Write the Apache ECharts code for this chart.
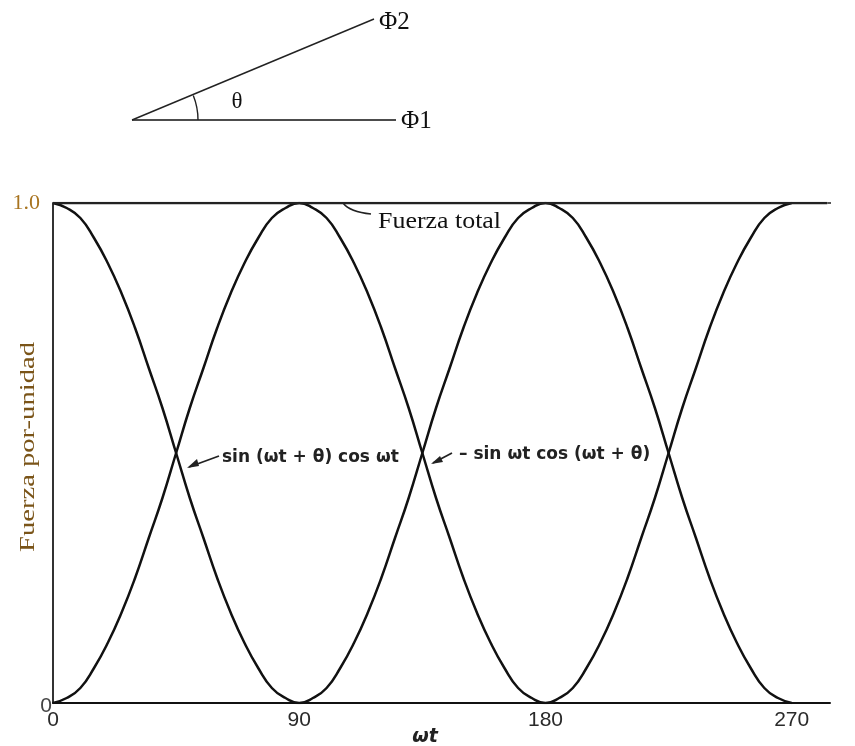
<!DOCTYPE html>
<html>
<head>
<meta charset="utf-8">
<script src="https://cdn.jsdelivr.net/npm/echarts@6/dist/echarts.min.js"></script>
<style>
  html, body { margin: 0; padding: 0; background: #fff; }
  #chart { width: 855px; height: 746px; }
</style>
</head>
<body>
<div id="chart"></div>
<script>
// ωt en grados (cada 5)
const wt = [0, 5, 10, 15, 20, 25, 30, 35, 40, 45, 50, 55, 60, 65, 70, 75, 80, 85, 90,
  95, 100, 105, 110, 115, 120, 125, 130, 135, 140, 145, 150, 155, 160, 165, 170, 175, 180,
  185, 190, 195, 200, 205, 210, 215, 220, 225, 230, 235, 240, 245, 250, 255, 260, 265, 270]
// sin(ωt+θ)cos ωt (empieza en 1.0)
const curvaA = [1.0, 0.99, 0.97, 0.93, 0.88, 0.82, 0.75, 0.67, 0.59, 0.5, 0.41, 0.33, 0.25, 0.18, 0.12, 0.07, 0.03, 0.01, 0,
  0.01, 0.03, 0.07, 0.12, 0.18, 0.25, 0.33, 0.41, 0.5, 0.59, 0.67, 0.75, 0.82, 0.88, 0.93, 0.97, 0.99, 1.0,
  0.99, 0.97, 0.93, 0.88, 0.82, 0.75, 0.67, 0.59, 0.5, 0.41, 0.33, 0.25, 0.18, 0.12, 0.07, 0.03, 0.01, 0]
// -sin ωt cos(ωt+θ) (empieza en 0)
const curvaB = [0, 0.01, 0.03, 0.07, 0.12, 0.18, 0.25, 0.33, 0.41, 0.5, 0.59, 0.67, 0.75, 0.82, 0.88, 0.93, 0.97, 0.99, 1.0,
  0.99, 0.97, 0.93, 0.88, 0.82, 0.75, 0.67, 0.59, 0.5, 0.41, 0.33, 0.25, 0.18, 0.12, 0.07, 0.03, 0.01, 0,
  0.01, 0.03, 0.07, 0.12, 0.18, 0.25, 0.33, 0.41, 0.5, 0.59, 0.67, 0.75, 0.82, 0.88, 0.93, 0.97, 0.99, 1.0]
// fuerza total
const totalX = [0, 283]
const totalExtX = [283, 292]
const totalY = [1.0, 1.0]
const xTicks = [0, 90, 180, 270]
const yTicks = ['0', '1.0']

const chart = echarts.init(document.getElementById('chart'))

const pair = (xs, ys) => xs.map((x, i) => [x, ys[i]])

chart.setOption({
  animation: false,
  grid: { left: 53, right: 25, top: 203, bottom: 43, containLabel: false, outerBoundsMode: 'none' },
  xAxis: {
    type: 'value',
    min: 0,
    max: 284,
    interval: 90,
    axisLine: { lineStyle: { color: '#111', width: 2 } },
    axisTick: { show: false },
    splitLine: { show: false },
    axisLabel: {
      margin: 7,
      fontFamily: 'Liberation Sans',
      fontSize: 21,
      color: '#2a2a2a',
      showMaxLabel: false,
      formatter: v => xTicks.includes(v) ? String(v) : ''
    }
  },
  yAxis: {
    type: 'value',
    min: 0,
    max: 1,
    interval: 1,
    axisLine: { show: true, lineStyle: { color: '#333', width: 2 } },
    axisTick: { show: false },
    splitLine: { show: false },
    axisLabel: {
      margin: 1,
      formatter: v => v === 1 ? '{a|' + yTicks[1] + '}' : '{b|' + yTicks[0] + '}',
      rich: {
        a: { fontFamily: 'Liberation Serif', fontSize: 22, color: '#a87420', padding: [0, 12, 0, 0] },
        b: { fontFamily: 'Liberation Sans', fontSize: 21, color: '#444', padding: [6, 0, 0, 0] }
      }
    }
  },
  series: [
    {
      type: 'line', symbol: 'none', smooth: 0.5,
      data: pair(wt, curvaA),
      lineStyle: { color: '#111', width: 2.5 }
    },
    {
      type: 'line', symbol: 'none', smooth: 0.5,
      data: pair(wt, curvaB),
      lineStyle: { color: '#111', width: 2.5 }
    },
    {
      type: 'line', symbol: 'none',
      data: pair(totalX, totalY),
      lineStyle: { color: '#222', width: 2.5 }
    },
    {
      type: 'line', symbol: 'none', clip: false,
      data: pair(totalExtX, totalY),
      lineStyle: { color: '#555', width: 2, type: [8, 6] }
    }
  ],
  graphic: [
    // diagrama fasorial
    { type: 'line', shape: { x1: 132, y1: 120, x2: 396, y2: 120 }, style: { stroke: '#111', lineWidth: 1.6 } },
    { type: 'line', shape: { x1: 132, y1: 120, x2: 374, y2: 19 }, style: { stroke: '#222', lineWidth: 1.4 } },
    { type: 'arc', shape: { cx: 132, cy: 120, r: 66, startAngle: -0.38, endAngle: 0 }, style: { stroke: '#222', lineWidth: 1.4, fill: null } },
    { type: 'text', x: 237, y: 102, style: { text: 'θ', font: '23px "Liberation Serif"', fill: '#111', align: 'center', verticalAlign: 'middle' } },
    { type: 'text', x: 379, y: 22, style: { text: 'Φ2', font: '25px "Liberation Serif"', fill: '#111', verticalAlign: 'middle' } },
    { type: 'text', x: 401, y: 121, style: { text: 'Φ1', font: '25px "Liberation Serif"', fill: '#111', verticalAlign: 'middle' } },
    // título del eje y
    { type: 'text', x: 28, y: 447, rotation: Math.PI / 2, scaleX: 1.3, style: { text: 'Fuerza por-unidad', font: '22px "Liberation Serif"', fill: '#7a5418', align: 'center', verticalAlign: 'middle' } },
    // anotaciones
    { type: 'bezierCurve', shape: { x1: 343, y1: 203, cpx1: 350, cpy1: 212, x2: 371, y2: 214 }, style: { stroke: '#222', lineWidth: 1.6, fill: null } },
    { type: 'text', x: 378, y: 222, scaleX: 1.08, style: { text: 'Fuerza total', font: '24px "Liberation Serif"', fill: '#111', verticalAlign: 'middle' } },
    { type: 'line', shape: { x1: 219, y1: 456, x2: 189, y2: 467 }, style: { stroke: '#222', lineWidth: 1.8 } },
    { type: 'polygon', shape: { points: [[187, 468], [197, 459], [199, 466]] }, style: { fill: '#222' } },
    { type: 'text', x: 222, y: 458, style: { text: 'sin (ωt + θ) cos ωt', font: 'bold 17px "DejaVu Sans"', fill: '#222', verticalAlign: 'middle' } },
    { type: 'line', shape: { x1: 452, y1: 453, x2: 433, y2: 463 }, style: { stroke: '#222', lineWidth: 1.8 } },
    { type: 'polygon', shape: { points: [[431, 464], [440, 456], [443, 462]] }, style: { fill: '#222' } },
    { type: 'text', x: 459, y: 455, style: { text: '– sin ωt cos (ωt + θ)', font: 'bold 17px "DejaVu Sans"', fill: '#222', verticalAlign: 'middle' } },
    { type: 'text', x: 425, y: 737, style: { text: 'ωt', font: 'italic bold 19px "DejaVu Sans"', fill: '#222', align: 'center', verticalAlign: 'middle' } }
  ]
})
</script>
</body>
</html>
